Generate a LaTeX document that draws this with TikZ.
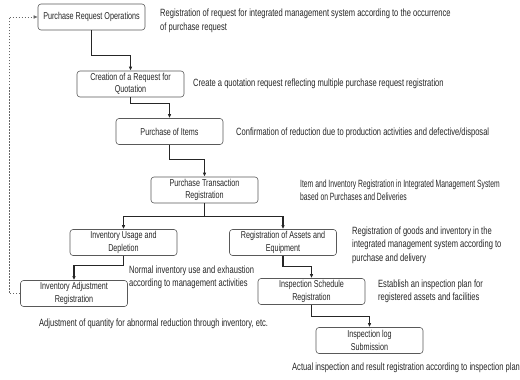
\documentclass[tikz,border=0pt]{standalone}
\usepackage{fontspec}
\setmainfont{Liberation Sans}[FakeStretch=0.72]
\newfontfamily\narrowfont{Liberation Sans}[FakeStretch=0.645]
\usetikzlibrary{arrows.meta}
\begin{document}
\begin{tikzpicture}[x=1pt,y=-1pt,
  box/.style={draw=black!65, line width=0.6pt, rounded corners=3pt, minimum width=107pt, minimum height=26pt, inner sep=1pt, align=center, text=black!85, font=\fontsize{10}{12.5}\selectfont},
  note/.style={anchor=west, align=left, inner sep=0pt, text=black!85, font=\fontsize{10.5}{13.5}\selectfont},
  conn/.style={draw=black!85, line width=1.1pt, -{Latex[length=4pt,width=3.5pt]}},
  plain/.style={draw=black!85, line width=1.1pt},
  fb/.style={draw=black!60, line width=0.5pt, dash pattern=on 1.5pt off 1.5pt, -{Latex[length=4pt,width=3.5pt]}}]
\useasboundingbox (0,0) rectangle (520,380);
\node[box] (n1) at (91.5,17) {Purchase Request Operations};
\node[box] (n2) at (130.5,84) {Creation of a Request for\\Quotation};
\node[box] (n3) at (169.5,131.5) {Purchase of Items};
\node[box] (n4) at (204.5,190) {Purchase Transaction\\Registration};
\node[box] (n5) at (123.5,242.5) {Inventory Usage and\\Depletion};
\node[box] (n6) at (283,242.5) {Registration of Assets and\\Equipment};
\node[box] (n7) at (74,293.5) {Inventory Adjustment\\Registration};
\node[box] (n8) at (311.5,291.5) {Inspection Schedule\\Registration};
\node[box] (n9) at (369.5,340.5) {Inspection log\\Submission};

\node[note] (t1) at (160,21) {Registration of request for integrated management system according to the occurrence\\of purchase request};
\node[note] (t2) at (193,84) {Create a quotation request reflecting multiple purchase request registration};
\node[note] (t3) at (236,132.5) {Confirmation of reduction due to production activities and defective/disposal};
\node[note, font=\fontsize{10.5}{13.5}\narrowfont] (t4) at (300,190) {Item and Inventory Registration in Integrated Management System\\based on Purchases and Deliveries};
\node[note] (t5) at (352,245) {Registration of goods and inventory in the\\integrated management system according to\\purchase and delivery};
\node[note] (t6) at (129,277.5) {Normal inventory use and exhaustion\\according to management activities};
\node[note] (t7) at (39,324) {Adjustment of quantity for abnormal reduction through inventory, etc.};
\node[note] (t8) at (378,291.5) {Establish an inspection plan for\\registered assets and facilities};
\node[note] (t9) at (292,368) {Actual inspection and result registration according to inspection plan};

\draw[conn] (n1.south) -- ++(0,25) -| (n2.north);
\draw[conn] (n2.south) -- ++(0,6) -| (n3.north);
\draw[conn] (n3.south) -- ++(0,15) -| (n4.north);
\draw[plain] (n4.south) -- ++(0,13) coordinate (j4);
\draw[conn] (j4) -| (n5.north);
\draw[conn] (j4) -| (n6.north);
\draw[conn] (n5.south) -- ++(0,10) -| (n7.north);
\draw[conn] (n6.south) -- ++(0,11) -| (n8.north);
\draw[conn] (n8.south) -- ++(0,12) -| (n9.north);
\draw[fb] (n7.west) -- ++(-11,0) |- (n1.west);
\end{tikzpicture}
\end{document}
